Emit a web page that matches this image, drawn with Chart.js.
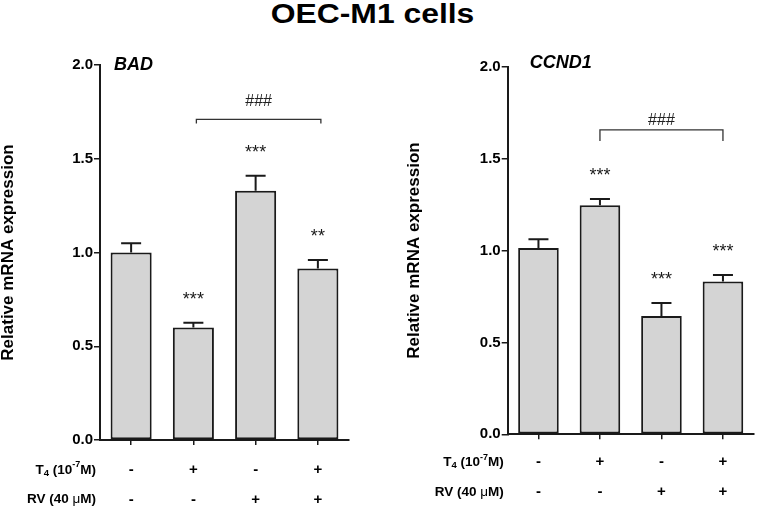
<!DOCTYPE html>
<html><head><meta charset="utf-8">
<script src="https://cdn.jsdelivr.net/npm/chart.js@4"></script>
<style>
html,body{margin:0;padding:0;background:#fff;}
body{width:757px;height:508px;position:relative;overflow:hidden;}
#title{position:absolute;left:0;top:1px;width:745px;text-align:center;font:bold 27px "Liberation Sans",Arial,sans-serif;line-height:26px;color:#000;transform:scaleX(1.18);transform-origin:372.5px 0;white-space:nowrap;}
canvas{position:absolute;top:0;}
#c1{left:0;}
#c2{left:406px;}
</style>
</head><body>
<div id="title">OEC-M1 cells</div>
<canvas id="c1" width="378" height="508"></canvas>
<canvas id="c2" width="351" height="508"></canvas>
<script>
// ---- data ----
const categories = ['Control', 'T4', 'RV', 'T4+RV'];
const t4Signs = ['-', '+', '-', '+'];
const rvSigns = ['-', '-', '+', '+'];
const yTickValues = [0, 0.5, 1.0, 1.5, 2.0];

const badMean  = [1.00, 0.60, 1.33, 0.915];
const badSEM   = [0.05, 0.025, 0.08, 0.045];
const badStars = ['', '***', '***', '**'];
const badBracket = [1, 3, 1.71, 1.81];   // from index, to index, line level, label level
const badHash = '###';

const ccnd1Mean  = [1.013, 1.246, 0.644, 0.832];
const ccnd1SEM   = [0.048, 0.034, 0.07, 0.035];
const ccnd1Stars = ['', '***', '***', '***'];
const ccnd1Bracket = [1, 3, 1.656, 1.715];
const ccnd1Hash = '###';

const FONT = '"Liberation Sans", Arial, sans-serif';
const ROW_LH = 29.5;

const annot = {
  id: 'annot',
  afterDatasetsDraw(chart, args, o) {
    const {ctx, scales: {x, y}, chartArea} = chart;
    ctx.save();
    // error bars
    ctx.strokeStyle = '#1a1a1a';
    ctx.lineWidth = 2;
    o.mean.forEach((m, i) => {
      const px = x.getPixelForValue(i);
      const yb = y.getPixelForValue(m);
      const yt = y.getPixelForValue(m + o.sem[i]);
      ctx.beginPath();
      ctx.moveTo(px, yb); ctx.lineTo(px, yt);
      ctx.moveTo(px - 10, yt); ctx.lineTo(px + 10, yt);
      ctx.stroke();
      if (o.stars[i]) {
        ctx.fillStyle = '#1a1a1a';
        ctx.font = '18px ' + FONT;
        ctx.textAlign = 'center';
        ctx.textBaseline = 'alphabetic';
        ctx.fillText(o.stars[i], px, yt - 28 + 10);
      }
    });
    // bracket
    const b = o.bracket;
    const x1 = x.getPixelForValue(b[0]) + o.brOff, x2 = x.getPixelForValue(b[1]) + o.brOff;
    const yl = y.getPixelForValue(b[2]);
    ctx.strokeStyle = '#333';
    ctx.lineWidth = 1.3;
    ctx.beginPath();
    ctx.moveTo(x1, yl + o.brTick); ctx.lineTo(x1, yl); ctx.lineTo(x2, yl); ctx.lineTo(x2, yl + o.brTick);
    ctx.stroke();
    ctx.fillStyle = '#222';
    ctx.font = '16px ' + FONT;
    ctx.textAlign = 'center';
    ctx.textBaseline = 'alphabetic';
    ctx.fillText(o.hash, (x1 + x2) / 2, y.getPixelForValue(b[3]) + 5.8);
    // panel title
    ctx.fillStyle = '#000';
    ctx.font = 'italic bold 18px ' + FONT;
    ctx.fillText(o.title, chartArea.left + o.titleDx, chartArea.top + o.titleDy);
    // row labels
    const xo = x.options;
    const base = x.top + xo.grid.tickLength + xo.ticks.padding + ROW_LH / 2;
    const rows = [
      [{t: 'T', s: 13.5}, {t: '4', s: 9.5, dy: 3}, {t: ' (10', s: 13.5}, {t: '-7', s: 9, dy: -5}, {t: 'M)', s: 13.5}],
      [{t: 'RV (40 ', s: 13.5}, {t: 'μ', s: 13.5, w: 'normal'}, {t: 'M)', s: 13.5}]
    ];
    ctx.textBaseline = 'middle';
    ctx.textAlign = 'left';
    rows.forEach((parts, r) => {
      let total = 0;
      parts.forEach(p => { ctx.font = (p.w || 'bold') + ' ' + p.s + 'px ' + FONT; p.width = ctx.measureText(p.t).width; total += p.width; });
      let cx = chartArea.left - 4 - total;
      const cy = base + r * ROW_LH;
      parts.forEach(p => {
        ctx.font = (p.w || 'bold') + ' ' + p.s + 'px ' + FONT;
        ctx.fillText(p.t, cx, cy + (p.dy || 0));
        cx += p.width;
      });
    });
    ctx.restore();
  }
};

function makeChart(id, mean, sem, stars, bracket, hash, title, cfg) {
  return new Chart(document.getElementById(id), {
    type: 'bar',
    data: {
      labels: categories.map((c, i) => [t4Signs[i], rvSigns[i]]),
      datasets: [{
        data: mean,
        backgroundColor: '#d4d4d4',
        borderColor: '#1a1a1a',
        borderWidth: 2,
        borderSkipped: false,
        barPercentage: 0.66,
        categoryPercentage: 1.0
      }]
    },
    options: {
      responsive: false,
      maintainAspectRatio: false,
      animation: false,
      layout: {padding: {top: cfg.top, left: 0, right: cfg.right, bottom: 0}},
      plugins: {
        legend: {display: false},
        tooltip: {enabled: false},
        title: {display: false},
        annot: {mean, sem, stars, bracket, hash, title, brTick: cfg.brTick, brOff: cfg.brOff, titleDx: cfg.titleDx, titleDy: cfg.titleDy}
      },
      scales: {
        x: {
          offset: true,
          grid: {display: true, drawOnChartArea: false, drawTicks: true, tickLength: 5, color: '#1a1a1a', lineWidth: 1.5, offset: false},
          border: {display: true, color: '#1a1a1a', width: 2},
          ticks: {color: '#000', padding: cfg.xPad, maxRotation: 0, autoSkip: false, font: {family: FONT, size: 15, weight: 'bold', lineHeight: ROW_LH / 15}},
          afterFit: s => { s.height = cfg.xH; }
        },
        y: {
          min: 0, max: 2,
          afterBuildTicks: s => { s.ticks = yTickValues.map(v => ({value: v})); },
          grid: {display: true, drawOnChartArea: false, drawTicks: true, tickLength: 6, color: '#1a1a1a', lineWidth: 1.5},
          border: {display: true, color: '#1a1a1a', width: 2},
          ticks: {color: '#000', padding: 1, callback: v => Number(v).toFixed(1), font: {family: FONT, size: 15, weight: 'bold'}},
          title: {display: true, text: 'Relative mRNA expression', color: '#000', padding: 0, font: {family: FONT, size: 17, weight: 'bold', lineHeight: 1}},
          afterFit: s => { s.width = cfg.yW; }
        }
      }
    },
    plugins: [annot]
  });
}

makeChart('c1', badMean, badSEM, badStars, badBracket, badHash, 'BAD',
  {top: 65, right: 29, xH: 68, yW: 100, xPad: 10.25, brTick: 4, brOff: 3, titleDx: 33.5, titleDy: 4.5});
makeChart('c2', ccnd1Mean, ccnd1SEM, ccnd1Stars, ccnd1Bracket, ccnd1Hash, 'CCND1',
  {top: 66.7, right: 3.3, xH: 73.7, yW: 101.7, xPad: 8.25, brTick: 11, brOff: 0, titleDx: 53, titleDy: 1.5});
</script>
</body></html>
